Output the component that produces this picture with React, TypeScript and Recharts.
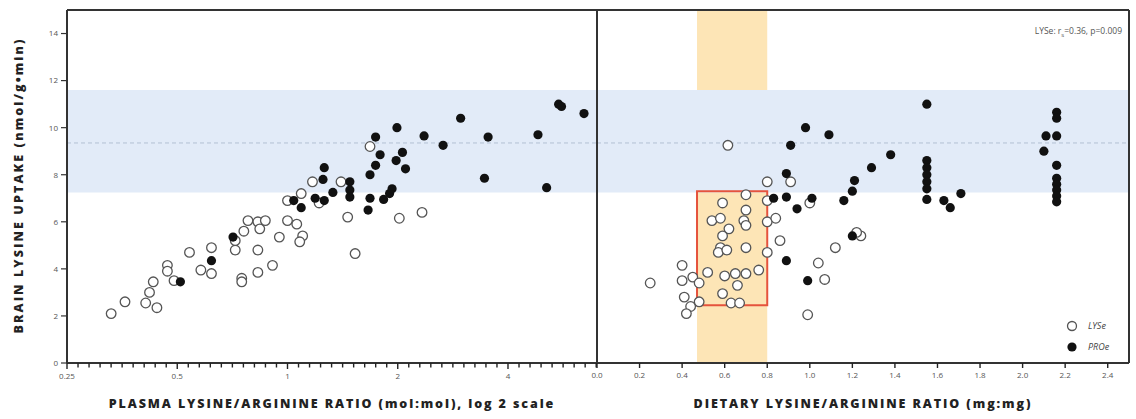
import React from "react";
import {
  ScatterChart,
  Scatter,
  XAxis,
  YAxis,
  ReferenceArea,
  ReferenceLine,
} from "recharts";

// plasma lysine/arginine ratio (mol:mol) vs brain lysine uptake (nmol/g/min)
const plasmaLYSe: [number, number][] = [
  [0.33, 2.1], [0.36, 2.6], [0.41, 2.55], [0.44, 2.35], [0.42, 3.0], [0.43, 3.45],
  [0.47, 4.15], [0.47, 3.9], [0.49, 3.5], [0.54, 4.7], [0.58, 3.95], [0.62, 4.9],
  [0.62, 3.8], [0.72, 4.8], [0.72, 5.2], [0.75, 3.6], [0.75, 3.45], [0.76, 5.6],
  [0.78, 6.05], [0.83, 6.0], [0.84, 5.7], [0.87, 6.05], [0.83, 4.8], [0.83, 3.85],
  [0.91, 4.15], [0.95, 5.35], [1.0, 6.05], [1.06, 5.9], [1.1, 5.4], [1.08, 5.15],
  [1.0, 6.9], [1.09, 7.2], [1.17, 7.7], [1.22, 6.8], [1.4, 7.7], [1.68, 9.2],
  [1.46, 6.2], [1.53, 4.65], [2.02, 6.15], [2.33, 6.4],
];

const plasmaPROe: [number, number][] = [
  [0.51, 3.45], [0.62, 4.35], [0.71, 5.35], [1.04, 6.9], [1.09, 6.6], [1.19, 7.0],
  [1.25, 7.8], [1.26, 8.3], [1.33, 7.25], [1.26, 6.9], [1.48, 7.7], [1.48, 7.35],
  [1.48, 7.05], [1.66, 6.5], [1.68, 7.0], [1.68, 8.0], [1.74, 8.4], [1.74, 9.6],
  [1.79, 8.85], [1.83, 6.95], [1.9, 7.2], [1.93, 7.4], [1.98, 8.6], [1.99, 10.0],
  [2.06, 8.95], [2.1, 8.25], [2.36, 9.65], [2.66, 9.25], [2.97, 10.4], [3.45, 7.85],
  [3.53, 9.6], [4.83, 9.7], [5.1, 7.45], [5.5, 11.0], [5.6, 10.9], [6.45, 10.6],
];

// dietary lysine/arginine ratio (mg:mg) vs brain lysine uptake
const dietLYSe: [number, number][] = [
  [0.615, 9.25], [0.25, 3.4], [0.4, 4.15], [0.4, 3.5], [0.45, 3.65], [0.48, 3.4],
  [0.41, 2.8], [0.44, 2.4], [0.42, 2.1], [0.48, 2.6], [0.52, 3.85], [0.59, 2.95],
  [0.6, 3.7], [0.65, 3.8], [0.7, 3.8], [0.66, 3.3], [0.63, 2.55], [0.67, 2.55],
  [0.76, 3.95], [0.59, 6.8], [0.7, 7.15], [0.54, 6.05], [0.58, 6.15], [0.7, 6.5],
  [0.69, 6.05], [0.7, 5.85], [0.62, 5.7], [0.59, 5.4], [0.58, 4.9], [0.57, 4.7],
  [0.61, 4.8], [0.7, 4.9], [0.8, 7.7], [0.8, 6.9], [0.91, 7.7], [0.8, 6.0],
  [0.84, 6.15], [0.86, 5.2], [0.8, 4.7], [1.0, 6.8], [1.12, 4.9], [1.04, 4.25],
  [1.07, 3.55], [0.99, 2.05], [1.24, 5.4], [1.22, 5.55],
];

const dietPROe: [number, number][] = [
  [0.98, 10.0], [1.09, 9.7], [0.91, 9.25], [0.89, 8.05], [0.89, 7.05], [0.83, 7.0],
  [0.94, 6.55], [1.01, 7.0], [1.16, 6.9], [0.89, 4.35], [0.99, 3.5], [1.55, 11.0],
  [1.38, 8.85], [1.29, 8.3], [1.21, 7.75], [1.2, 7.3], [1.2, 5.4], [1.55, 8.6],
  [1.55, 8.3], [1.55, 8.0], [1.55, 7.7], [1.55, 7.4], [1.55, 6.95], [1.63, 6.9],
  [1.66, 6.6], [1.71, 7.2], [2.16, 10.65], [2.16, 10.4], [2.11, 9.65], [2.16, 9.65],
  [2.1, 9.0], [2.16, 8.4], [2.16, 7.85], [2.16, 7.6], [2.16, 7.35], [2.16, 7.1],
  [2.16, 6.85],
];

const uptakeTicks = [0, 2, 4, 6, 8, 10, 12, 14];
const plasmaMajor = [0.25, 0.5, 1, 2, 4];
const dietTicks = [0, 0.2, 0.4, 0.6, 0.8, 1.0, 1.2, 1.4, 1.6, 1.8, 2.0, 2.2, 2.4];
// reference range of uptake and recommended dietary ratio window
const refBand = [7.25, 11.6];
const refMean = 9.35;
const dietWindow = [0.47, 0.8];
const dietBox = [2.45, 7.3];

// minor ticks on the log2 axis, ten per doubling
const plasmaTicks = Array.from({ length: 49 }, (_, k) => 0.25 * Math.pow(2, k / 10));

const toPts = (arr: [number, number][]) => arr.map(([x, y]) => ({ x, y }));

const FRAME = "#333";
const BLUE = "#e2ebf8";
const ORANGE = "#fde5b6";
const TITLE_FONT = "'Open Sans', sans-serif";

const openDot = (p: any) => (
  <circle cx={p.cx} cy={p.cy} r={4.8} fill="#fff" stroke="#555" strokeWidth={1.3} />
);
const filledDot = (p: any) => <circle cx={p.cx} cy={p.cy} r={4.6} fill="#111" />;

const tickStyle = { fontSize: 8, fill: "#555", fontFamily: TITLE_FONT };

function PlasmaTick({ x, y, payload }: any) {
  const v = payload.value;
  const major = plasmaMajor.find((m) => Math.abs(m - v) < 1e-6);
  return (
    <g>
      <line x1={x} x2={x} y1={y} y2={y + (major !== undefined ? 6 : 4.5)} stroke="#222" strokeWidth={1.4} />
      {major !== undefined && (
        <text x={x} y={y + 16} textAnchor="middle" {...tickStyle}>
          {major}
        </text>
      )}
    </g>
  );
}

const titleStyle: React.CSSProperties = {
  position: "absolute",
  textAlign: "center",
  fontFamily: TITLE_FONT,
  fontWeight: 800,
  fontSize: 12.5,
  letterSpacing: 1.9,
  color: "#222",
  whiteSpace: "nowrap",
};

export default function App() {
  return (
    <div style={{ position: "absolute", left: 0, top: 0, width: 1136, height: 419, background: "#fff" }}>
      <div style={{ position: "absolute", left: 0, top: 0 }}>
        <ScatterChart width={600} height={419} margin={{ top: 10, right: 3, bottom: 36, left: 30 }}>
          <XAxis
            dataKey="x"
            type="number"
            scale="log"
            domain={[0.25, 7]}
            allowDataOverflow
            ticks={plasmaTicks}
            interval={0}
            tickSize={0}
            tickMargin={0}
            tickLine={false}
            tick={<PlasmaTick />}
            height={20}
            axisLine={{ stroke: FRAME, strokeWidth: 2 }}
          />
          <YAxis
            dataKey="y"
            type="number"
            domain={[0, 15]}
            ticks={uptakeTicks}
            width={37}
            tickSize={6}
            tickMargin={3}
            tick={tickStyle}
            tickLine={{ stroke: FRAME, strokeWidth: 1.2 }}
            axisLine={{ stroke: FRAME, strokeWidth: 2 }}
          />
          <ReferenceArea y1={refBand[0]} y2={refBand[1]} fill={BLUE} fillOpacity={1} stroke="none" />
          <ReferenceLine y={refMean} stroke="#b3c0d3" strokeDasharray="4 3" strokeWidth={1} />
          <ReferenceLine y={15} stroke={FRAME} strokeWidth={2} />
          <ReferenceLine x={7} stroke={FRAME} strokeWidth={2} />
          <Scatter data={toPts(plasmaLYSe)} shape={openDot} isAnimationActive={false} />
          <Scatter data={toPts(plasmaPROe)} shape={filledDot} isAnimationActive={false} />
        </ScatterChart>
      </div>

      <div style={{ position: "absolute", left: 560, top: 0 }}>
        <ScatterChart width={576} height={419} margin={{ top: 10, right: 7, bottom: 36, left: 37 }}>
          <XAxis
            dataKey="x"
            type="number"
            domain={[0, 2.5]}
            allowDataOverflow
            ticks={dietTicks}
            interval={0}
            tickSize={5}
            tickMargin={4}
            tick={tickStyle}
            tickFormatter={(v: number) => v.toFixed(1)}
            tickLine={{ stroke: "#222", strokeWidth: 1.4 }}
            height={20}
            axisLine={{ stroke: FRAME, strokeWidth: 2 }}
          />
          <YAxis dataKey="y" type="number" domain={[0, 15]} hide />
          <ReferenceArea x1={dietWindow[0]} x2={dietWindow[1]} y1={0} y2={15} fill={ORANGE} fillOpacity={1} stroke="none" />
          <ReferenceArea y1={refBand[0]} y2={refBand[1]} fill={BLUE} fillOpacity={1} stroke="none" />
          <ReferenceLine y={refMean} stroke="#b3c0d3" strokeDasharray="4 3" strokeWidth={1} />
          <ReferenceArea
            x1={dietWindow[0]}
            x2={dietWindow[1]}
            y1={dietBox[0]}
            y2={dietBox[1]}
            fill="none"
            fillOpacity={0}
            stroke="#e5533d"
            strokeWidth={2}
          />
          <ReferenceLine y={15} stroke={FRAME} strokeWidth={2} />
          <ReferenceLine x={0} stroke={FRAME} strokeWidth={2} />
          <ReferenceLine x={2.5} stroke={FRAME} strokeWidth={2} />
          <Scatter data={toPts(dietLYSe)} shape={openDot} isAnimationActive={false} />
          <Scatter data={toPts(dietPROe)} shape={filledDot} isAnimationActive={false} />
        </ScatterChart>
      </div>

      <div style={{ ...titleStyle, left: 37, top: 395, width: 590 }}>
        PLASMA LYSINE/ARGININE RATIO (mol:mol), log 2 scale
      </div>
      <div style={{ ...titleStyle, left: 597, top: 395, width: 532 }}>
        DIETARY LYSINE/ARGININE RATIO (mg:mg)
      </div>
      <div
        style={{
          ...titleStyle,
          left: 18 - 160,
          top: 186 - 9,
          width: 320,
          letterSpacing: 2.1,
          transform: "rotate(-90deg)",
        }}
      >
        BRAIN LYSINE UPTAKE (nmol/g•min)
      </div>

      <div
        style={{
          position: "absolute",
          right: 1136 - 1122,
          top: 25,
          fontFamily: TITLE_FONT,
          fontSize: 8.5,
          color: "#555",
          whiteSpace: "nowrap",
        }}
      >
        LYSe: r<sub style={{ fontSize: 6 }}>s</sub>=0.36, p=0.009
      </div>

      <div
        style={{
          position: "absolute",
          left: 1066,
          top: 315,
          fontFamily: TITLE_FONT,
          fontSize: 9,
          fontStyle: "italic",
          color: "#444",
          lineHeight: "21px",
        }}
      >
        <div style={{ display: "flex", alignItems: "center" }}>
          <svg width={14} height={12}>
            <circle cx={6} cy={6} r={4.5} fill="#fff" stroke="#555" strokeWidth={1.3} />
          </svg>
          <span style={{ marginLeft: 8 }}>LYSe</span>
        </div>
        <div style={{ display: "flex", alignItems: "center" }}>
          <svg width={14} height={12}>
            <circle cx={6} cy={6} r={4.6} fill="#111" />
          </svg>
          <span style={{ marginLeft: 8 }}>PROe</span>
        </div>
      </div>
    </div>
  );
}
